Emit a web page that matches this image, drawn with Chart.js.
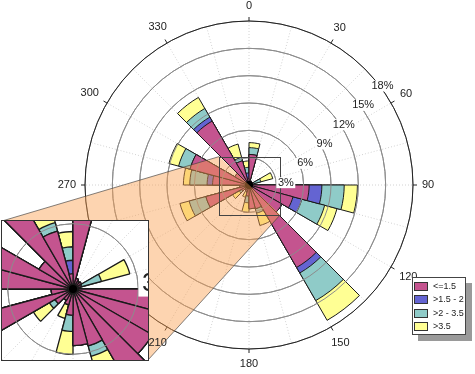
<!DOCTYPE html>
<html>
<head>
<meta charset="utf-8">
<script src="https://cdn.jsdelivr.net/npm/chart.js@4.4.1/dist/chart.umd.min.js"></script>
<style>
  html, body { margin: 0; padding: 0; background: #fff; }
  #wrap { position: relative; width: 475px; height: 374px; overflow: hidden; font-family: "Liberation Sans", Arial, sans-serif; }
  #main { position: absolute; left: 0; top: 0; }
  #inset { position: absolute; left: 1px; top: 220px; width: 146px; height: 139px; border: 1px solid #333; overflow: hidden; background: #fff; }
  #zoom { position: absolute; }
  #legend { position: absolute; left: 412px; top: 277px; width: 52px; height: 56px; border: 1px solid #444; background: #fff; box-shadow: 6px 6px 0 #9a9a9a; font-size: 9px; color: #222; }
  .row { position: absolute; left: 1px; height: 9px; line-height: 9px; white-space: nowrap; }
  .sw { display: inline-block; width: 12px; height: 7px; border: 1px solid #333; vertical-align: top; margin-right: 5px; }
</style>
</head>
<body>
<div id="wrap">
  <canvas id="main" width="475" height="374"></canvas>
  <div id="inset"><canvas id="zoom" width="940" height="940"></canvas></div>
  <div id="legend"></div>
</div>
<script>
// wind directions (sector start, degrees clockwise from north), 15 deg bins
const dirLabels = ['0','15','30','45','60','75','90','105','120','135','150','165',
                   '180','195','210','225','240','255','270','285','300','315','330','345'];
const speedBins = ['<=1.5', '>1.5 - 2', '>2 - 3.5', '>3.5'];
// frequency (%) per direction for each speed bin
const speedLow  = [3.35, 0.5, 0.4, 0.45, 0.4, 0.3, 6.6, 5.0, 4.2, 10.45, 2.7, 2.6,
                   1.2, 0.75, 0.6, 0.95, 4.9, 1.0, 4.0, 6.7, 1.8, 8.1, 2.75, 0.7];
const speedMid  = [0, 0, 0, 0, 0, 0, 1.4, 1.0, 0, 0.7, 0, 0,
                   0, 0, 0, 0, 0, 0, 0.6, 0, 0, 0.5, 0, 0.62];
const speedHigh = [0.75, 0, 0, 0, 0.95, 0, 2.45, 2.6, 0, 3.5, 0.5, 0,
                   0.75, 0, 0, 0.3, 1.9, 0, 1.9, 1.3, 0, 1.1, 0.4, 0.62];
const speedTop  = [0.55, 0, 0, 0, 1.35, 0, 1.45, 1.4, 0, 2.5, 1.4, 0,
                   1.05, 0.65, 0, 0.85, 1.05, 0, 0.7, 1.1, 0, 1.4, 1.5, 0.7];
const tickValues = [3, 6, 9, 12, 15, 18];
const angleTicks = ['0','30','60','90','120','150','180','210','240','270','300','330'];
const binColors = ['#C4548F', '#6464D2', '#8FCBC8', '#FFFF94'];

// inset: magnified copy of the centre
const ZOOM = 2.39;
const INSET = { x: 2, y: 221, w: 146, h: 139, cx: 73, cy: 289 };

const FONT = '"Liberation Sans", Arial, sans-serif';

// stacked rose: each dataset is the running total, smallest drawn on top
const series = [speedLow, speedMid, speedHigh, speedTop];
function stacked(){
  const out = [];
  let run = dirLabels.map(() => 0);
  series.forEach((s, j) => {
    run = run.map((v, i) => v + s[i]);
    out.push({ label: speedBins[j], data: run.slice(), backgroundColor: binColors[j] });
  });
  return out;
}

const windRose = {
  id: 'windRose',
  afterDatasetsDraw(chart, args, o){
    const sc = chart.scales.r, ctx = chart.ctx, s = o.s;
    const cx = sc.xCenter, cy = sc.yCenter;
    const R = sc.getDistanceFromCenterForValue(18);
    ctx.save();

    // grid rings sit over the bars
    ctx.strokeStyle = '#8c8c8c';
    ctx.lineWidth = 1;
    tickValues.forEach(v => {
      if (v === 18) return;
      ctx.beginPath();
      ctx.arc(cx, cy, sc.getDistanceFromCenterForValue(v), 0, Math.PI * 2);
      ctx.stroke();
    });

    // outer ring + direction ticks
    ctx.strokeStyle = '#222';
    ctx.beginPath();
    ctx.arc(cx, cy, R, 0, Math.PI * 2);
    ctx.stroke();
    angleTicks.forEach(t => {
      const a = +t * Math.PI / 180;
      ctx.beginPath();
      ctx.moveTo(cx + Math.sin(a) * R, cy - Math.cos(a) * R);
      ctx.lineTo(cx + Math.sin(a) * (R + 4 * s), cy - Math.cos(a) * (R + 4 * s));
      ctx.stroke();
    });

    // centre blob
    ctx.fillStyle = '#000';
    ctx.beginPath();
    ctx.arc(cx, cy, 4, 0, Math.PI * 2);
    ctx.fill();

    // zoom connector + box (main chart only)
    if (o.zoom) {
      const bx0 = cx + (INSET.x - INSET.cx) / ZOOM, by0 = cy + (INSET.y - INSET.cy) / ZOOM;
      const bx1 = cx + (INSET.x + INSET.w - INSET.cx) / ZOOM, by1 = cy + (INSET.y + INSET.h - INSET.cy) / ZOOM;
      const ix0 = INSET.x, iy0 = INSET.y, ix1 = INSET.x + INSET.w, iy1 = INSET.y + INSET.h;
      ctx.fillStyle = 'rgba(250,160,80,0.45)';
      ctx.beginPath();
      ctx.moveTo(ix0, iy0);
      ctx.lineTo(bx0, by0);
      ctx.lineTo(bx1, by1);
      ctx.lineTo(ix1, iy1);
      ctx.lineTo(ix0, iy1);
      ctx.closePath();
      ctx.fill();
      ctx.strokeStyle = 'rgba(60,60,60,0.8)';
      ctx.lineWidth = 0.8;
      ctx.beginPath();
      ctx.moveTo(ix0, iy0); ctx.lineTo(bx0, by0);
      ctx.moveTo(bx1, by1); ctx.lineTo(ix1, iy1);
      ctx.stroke();
      ctx.strokeStyle = '#444';
      ctx.lineWidth = 1;
      ctx.strokeRect(Math.round(bx0) + 0.5, Math.round(by0) + 0.5, Math.round(bx1 - bx0), Math.round(by1 - by0));
    }

    // % labels along the 45 deg diagonal
    ctx.font = (11 * s) + 'px ' + FONT;
    ctx.textAlign = 'center';
    ctx.textBaseline = 'middle';
    tickValues.forEach(v => {
      const r = sc.getDistanceFromCenterForValue(v);
      const x = cx + r * Math.SQRT1_2 + 17.5 * s;
      const y = cy - r * Math.SQRT1_2 + 17 * s;
      const txt = v + '%';
      const w = ctx.measureText(txt).width;
      ctx.fillStyle = '#fff';
      ctx.fillRect(x - w / 2 - 1.5 * s, y - 5.5 * s, w + 3 * s, 11 * s);
      ctx.fillStyle = '#222';
      ctx.fillText(txt, x, y);
    });

    // direction labels outside the ring
    angleTicks.forEach(t => {
      const a = +t * Math.PI / 180;
      const w = ctx.measureText(t).width;
      const d = R + 9 * s + Math.abs(Math.sin(a)) * w / 2 + Math.abs(Math.cos(a)) * 6 * s;
      ctx.fillStyle = '#222';
      ctx.fillText(t, cx + Math.sin(a) * d, cy - Math.cos(a) * d);
    });
    ctx.restore();
  }
};

function makeConfig(s, pad, zoom){
  return {
    type: 'polarArea',
    data: { labels: dirLabels, datasets: stacked() },
    options: {
      responsive: false,
      animation: false,
      layout: { padding: pad },
      elements: { arc: { borderWidth: s > 1 ? 1.3 : 1, borderColor: '#1a1a1a' } },
      plugins: { legend: { display: false }, tooltip: { enabled: false }, windRose: { s: s, zoom: zoom } },
      scales: {
        r: {
          min: 0, max: 18, startAngle: 0,
          ticks: { display: false, stepSize: 3 },
          grid: { circular: true, color: '#8c8c8c', lineWidth: 1 },
          angleLines: { display: true, color: '#d2d2d2', lineWidth: 1, borderDash: [1, 2] },
          pointLabels: { display: false }
        }
      }
    },
    plugins: [windRose]
  };
}

new Chart(document.getElementById('main'), makeConfig(1, { left: 85, right: 62, top: 21, bottom: 25 }, true));

// inset chart: same rose, magnified, centred at the inset's centre
const zc = document.getElementById('zoom');
const half = 470, Rz = Math.round(164 * ZOOM);
zc.style.left = (INSET.cx - INSET.x - half) + 'px';
zc.style.top = (INSET.cy - INSET.y - half) + 'px';
new Chart(zc, makeConfig(ZOOM, half - Rz, false));

// legend
const lg = document.getElementById('legend');
speedBins.forEach((b, j) => {
  const row = document.createElement('div');
  row.className = 'row';
  row.style.top = (4 + j * 13.3) + 'px';
  row.innerHTML = '<span class="sw" style="background:' + binColors[j] + '"></span>' + b.replace('<', '&lt;').replace('>', '&gt;');
  lg.appendChild(row);
});
</script>
</body>
</html>
